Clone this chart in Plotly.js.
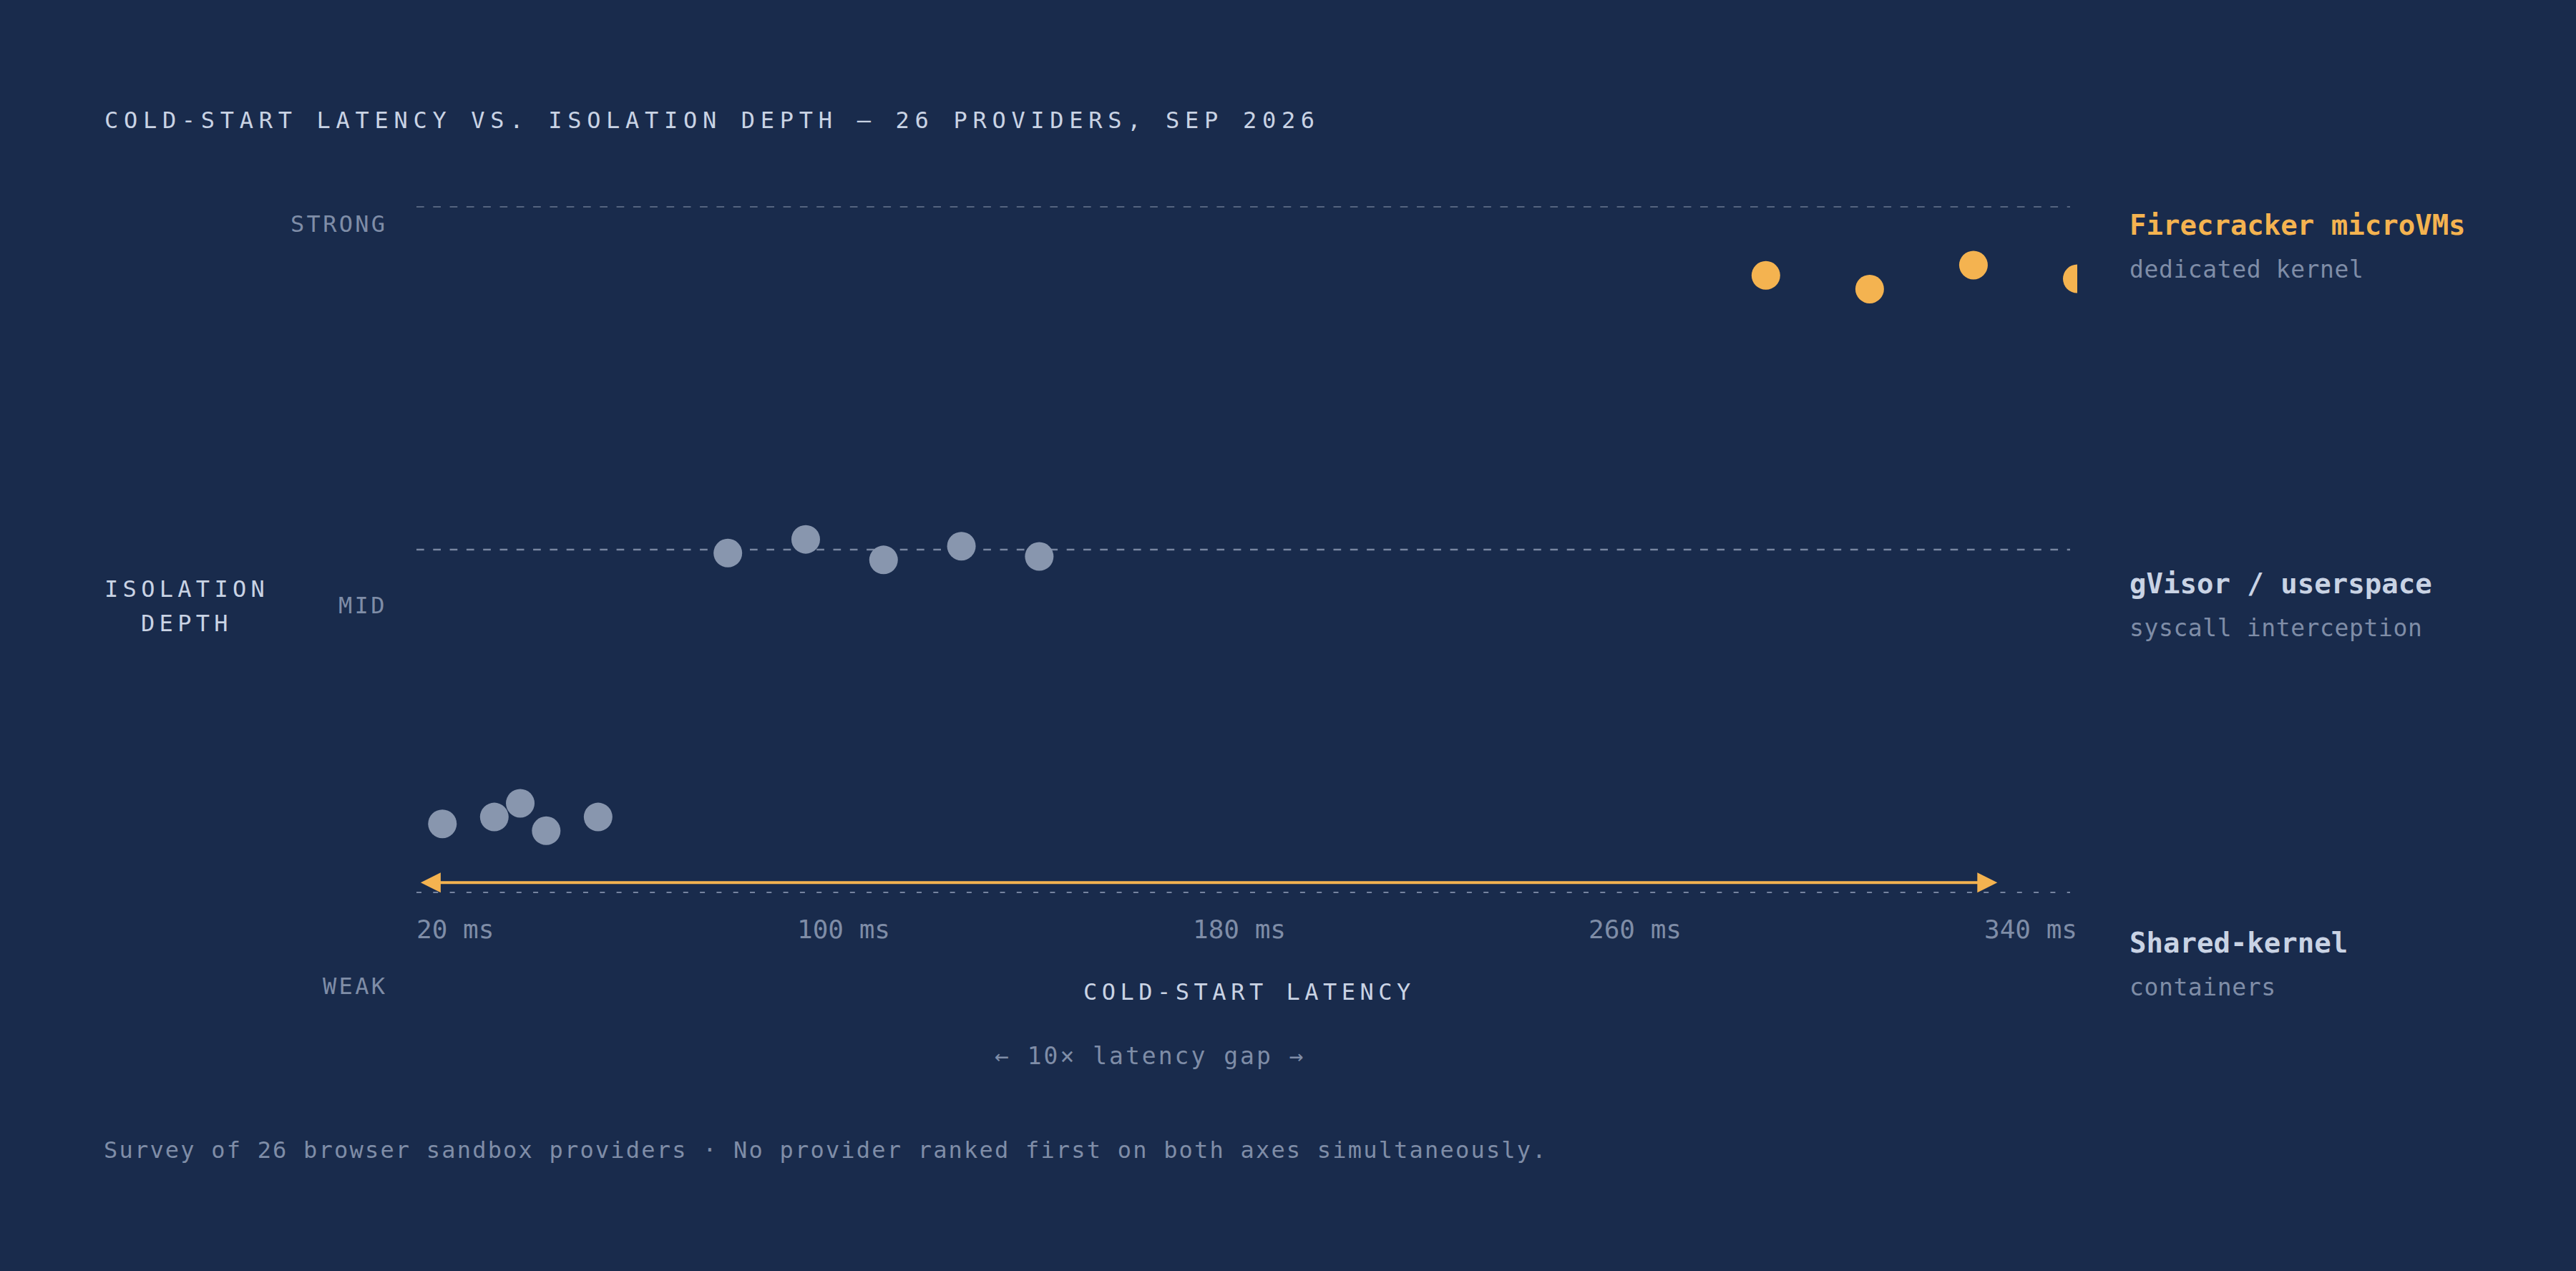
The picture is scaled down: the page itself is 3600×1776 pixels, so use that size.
<!DOCTYPE html>
<html>
<head>
<meta charset="utf-8">
<script src="https://cdn.plot.ly/plotly-3.0.1.min.js"></script>
<style>
  html, body { margin: 0; padding: 0; background: #192b4c; }
  #chart { width: 3600px; height: 1776px; }
</style>
</head>
<body>
<div id="chart"></div>
<script>
// cold-start latency (ms) and isolation depth score per provider tier
const firecrackerMs = [280, 300, 320, 340];
const firecrackerDepth = [2.80, 2.76, 2.83, 2.79];
const gvisorMs = [80, 95, 110, 125, 140];
const gvisorDepth = [1.99, 2.03, 1.97, 2.01, 1.98];
const sharedMs = [25, 35, 40, 45, 55];
const sharedDepth = [1.20, 1.22, 1.26, 1.18, 1.22];

const depthLevels = [1, 2, 3];
const depthLabels = ['WEAK', 'MID', 'STRONG'];
const tickLabels = ['20 ms', '100 ms', '180 ms', '260 ms', '340 ms'];
const tierNames = ['Firecracker microVMs', 'gVisor / userspace', 'Shared-kernel'];
const tierNotes = ['dedicated kernel', 'syscall interception', 'containers'];

const BG = '#192b4c';
const ORANGE = '#f4b350';
const GREY = '#8896ae';
const LIGHT = '#c9d3e4';
const MUTED = '#7f8da7';
const MONO = 'DejaVu Sans Mono, monospace';

// page geometry (px)
const W = 3600, H = 1776;
const L = 582, R = 697, T = 279, B = 519;
const plotW = W - L - R, plotH = H - T - B;
const px = v => (v - L) / plotW;
const py = v => (H - B - v) / plotH;

function spaced(text, ls) {
  return ls ? '<span style="letter-spacing:' + ls + 'px">' + text + '</span>' : text;
}

function label(text, x, y, o) {
  return {
    text: spaced(text, o.ls || 0),
    xref: 'paper', yref: 'paper',
    x: px(x), y: py(y),
    xanchor: o.anchor || 'left', yanchor: 'middle',
    showarrow: false, borderpad: 0, borderwidth: 0,
    font: { family: MONO, size: o.size || 32, color: o.color || MUTED, weight: o.weight || 400 }
  };
}

const annotations = [];

// depth level labels (left column)
const levelLabelY = [1378, 846, 313];
depthLabels.forEach((t, i) => {
  annotations.push(label(t, 541, levelLabelY[i], { anchor: 'right', ls: 3.3, color: MUTED }));
});

// y axis caption
annotations.push(label('ISOLATION', 261, 822.5, { anchor: 'center', ls: 6.3, color: LIGHT }));
annotations.push(label('DEPTH', 261, 870.5, { anchor: 'center', ls: 6.3, color: LIGHT }));

// tick labels spread across the plot width (first flush left, last flush right)
const tickSize = 36;
const tickW = tickLabels.map(t => t.length * 0.602 * tickSize);
const tickGap = (plotW - tickW.reduce((a, b) => a + b, 0)) / (tickLabels.length - 1);
let cursor = L;
tickLabels.forEach((t, i) => {
  annotations.push(label(t, cursor + tickW[i] / 2, 1298, { anchor: 'center', size: tickSize, color: MUTED }));
  cursor += tickW[i] + tickGap;
});

// x axis caption and gap note
annotations.push(label('COLD-START LATENCY', L + plotW / 2 + 3, 1386, { anchor: 'center', ls: 6.5, color: LIGHT }));
annotations.push(label('\u2190 10\u00d7 latency gap \u2192', 1607, 1475, { anchor: 'center', size: 33, ls: 3, color: MUTED }));

// tier labels (right column)
const tierY = [314, 815.5, 1317];
const tierColors = [ORANGE, LIGHT, LIGHT];
tierNames.forEach((t, i) => {
  annotations.push(label(t, 2976, tierY[i], { size: 39, weight: 700, color: tierColors[i] }));
  annotations.push(label(tierNotes[i], 2976, tierY[i] + 62, { size: 33, ls: 0.6, color: MUTED }));
});

// footer
annotations.push(label('Survey of 26 browser sandbox providers \u00b7 No provider ranked first on both axes simultaneously.',
  145, 1607, { size: 32, ls: 2.2, color: MUTED }));

// latency gap arrow
annotations.push({
  xref: 'x', yref: 'y', axref: 'x', ayref: 'y',
  x: 324.6, y: 1.0286, ax: 20.6, ay: 1.0286,
  text: '', showarrow: true, arrowside: 'end+start',
  arrowhead: 2, startarrowhead: 2, arrowsize: 1.4, startarrowsize: 1.4,
  arrowwidth: 4, arrowcolor: ORANGE, standoff: 0, startstandoff: 0
});

// dashed depth level lines
const levelLineStyles = [
  { color: '#7583a0', width: 2, dash: '7px,16.3px' },
  { color: '#7886a0', width: 2.5, dash: '10.7px,12.6px' },
  { color: '#55647f', width: 2, dash: '10.7px,12.6px' }
];
const shapes = depthLevels.map((lvl, i) => ({
  type: 'line', xref: 'paper', yref: 'y',
  x0: 0, x1: px(2893), y0: lvl, y1: lvl,
  line: levelLineStyles[i], layer: 'below'
}));

const markerSize = 40;
const data = [
  { x: sharedMs, y: sharedDepth, name: 'Shared-kernel', type: 'scatter', mode: 'markers',
    marker: { size: markerSize, color: GREY } },
  { x: gvisorMs, y: gvisorDepth, name: 'gVisor', type: 'scatter', mode: 'markers',
    marker: { size: markerSize, color: GREY } },
  { x: firecrackerMs, y: firecrackerDepth, name: 'Firecracker', type: 'scatter', mode: 'markers',
    marker: { size: markerSize, color: ORANGE } }
];

const layout = {
  width: W, height: H,
  paper_bgcolor: BG, plot_bgcolor: BG,
  margin: { l: L, r: R, t: T, b: B, pad: 0 },
  showlegend: false,
  hovermode: false,
  font: { family: MONO, color: MUTED },
  title: {
    text: spaced('COLD-START LATENCY VS. ISOLATION DEPTH \u2014 26 PROVIDERS, SEP 2026', 7.7),
    xref: 'container', yref: 'container',
    x: 146 / W, xanchor: 'left',
    y: 1 - (179.3 - 0.35 * 32) / H, yanchor: 'middle',
    font: { family: MONO, size: 32, color: LIGHT }
  },
  xaxis: { range: [20, 340], showgrid: false, zeroline: false, showline: false,
    showticklabels: false, ticks: '', fixedrange: true },
  yaxis: { range: [1 - 10 / 479, 3 + 10 / 479], showgrid: false, zeroline: false, showline: false,
    showticklabels: false, ticks: '', fixedrange: true },
  shapes: shapes,
  annotations: annotations
};

Plotly.newPlot('chart', data, layout, { displayModeBar: false, staticPlot: true });
</script>
</body>
</html>
